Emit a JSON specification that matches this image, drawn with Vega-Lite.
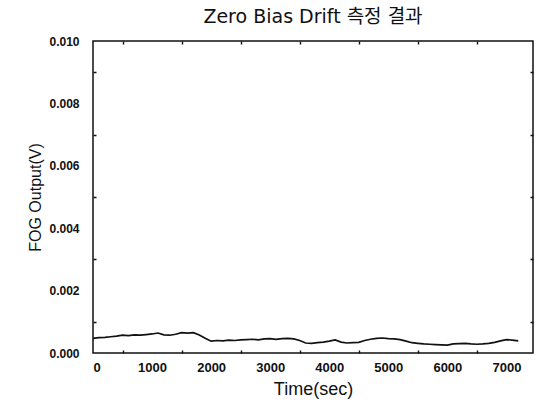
{
  "$schema": "https://vega.github.io/schema/vega-lite/v6.json",
  "width": 440,
  "height": 312,
  "autosize": {"type": "none"},
  "padding": {"left": 93, "top": 41, "right": 3, "bottom": 52},
  "background": "white",
  "title": {
    "text": "Zero Bias Drift 측정 결과",
    "font": "DejaVu Sans, Noto Sans CJK KR",
    "fontSize": 19,
    "fontWeight": "normal",
    "color": "#111",
    "offset": 8
  },
  "config": {
    "view": {"stroke": "#111", "strokeWidth": 1.5},
    "axis": {
      "zindex": 2,
      "domain": false,
      "ticks": false,
      "grid": true,
      "gridColor": "#111",
      "gridOpacity": 1,
      "gridWidth": 1.4,
      "labelFont": "Liberation Sans",
      "labelFontWeight": "bold",
      "labelFontSize": 12,
      "labelColor": "#111",
      "titleFont": "Liberation Sans",
      "titleFontWeight": "normal",
      "titleFontSize": 16,
      "titleColor": "#111"
    }
  },
  "data": {
    "values": [
      {"t": 0, "v": 0.00047}, {"t": 100, "v": 0.00049}, {"t": 200, "v": 0.0005},
      {"t": 300, "v": 0.00052}, {"t": 400, "v": 0.00054}, {"t": 500, "v": 0.00057},
      {"t": 600, "v": 0.00056}, {"t": 700, "v": 0.00058}, {"t": 800, "v": 0.00057},
      {"t": 900, "v": 0.00059}, {"t": 1000, "v": 0.00061}, {"t": 1100, "v": 0.00064},
      {"t": 1200, "v": 0.00058}, {"t": 1300, "v": 0.00057}, {"t": 1400, "v": 0.0006},
      {"t": 1500, "v": 0.00065}, {"t": 1600, "v": 0.00064}, {"t": 1700, "v": 0.00065},
      {"t": 1800, "v": 0.00058}, {"t": 1900, "v": 0.00047}, {"t": 2000, "v": 0.00038},
      {"t": 2100, "v": 0.0004}, {"t": 2200, "v": 0.00039}, {"t": 2300, "v": 0.00041},
      {"t": 2400, "v": 0.0004}, {"t": 2500, "v": 0.00042}, {"t": 2600, "v": 0.00043},
      {"t": 2700, "v": 0.00044}, {"t": 2800, "v": 0.00042}, {"t": 2900, "v": 0.00045},
      {"t": 3000, "v": 0.00046}, {"t": 3100, "v": 0.00044}, {"t": 3200, "v": 0.00046},
      {"t": 3300, "v": 0.00047}, {"t": 3400, "v": 0.00045}, {"t": 3500, "v": 0.0004},
      {"t": 3600, "v": 0.00032}, {"t": 3700, "v": 0.00031}, {"t": 3800, "v": 0.00033},
      {"t": 3900, "v": 0.00035}, {"t": 4000, "v": 0.00038}, {"t": 4100, "v": 0.00042},
      {"t": 4200, "v": 0.00035}, {"t": 4300, "v": 0.00032}, {"t": 4400, "v": 0.00033},
      {"t": 4500, "v": 0.00034}, {"t": 4600, "v": 0.0004}, {"t": 4700, "v": 0.00044},
      {"t": 4800, "v": 0.00047}, {"t": 4900, "v": 0.00048}, {"t": 5000, "v": 0.00046},
      {"t": 5100, "v": 0.00045}, {"t": 5200, "v": 0.00043}, {"t": 5300, "v": 0.00038},
      {"t": 5400, "v": 0.00033}, {"t": 5500, "v": 0.00031}, {"t": 5600, "v": 0.00029},
      {"t": 5700, "v": 0.00028}, {"t": 5800, "v": 0.00027}, {"t": 5900, "v": 0.00026},
      {"t": 6000, "v": 0.00025}, {"t": 6100, "v": 0.00029}, {"t": 6200, "v": 0.0003},
      {"t": 6300, "v": 0.00031}, {"t": 6400, "v": 0.00029}, {"t": 6500, "v": 0.00028},
      {"t": 6600, "v": 0.00029}, {"t": 6700, "v": 0.00031}, {"t": 6800, "v": 0.00034},
      {"t": 6900, "v": 0.00039}, {"t": 7000, "v": 0.00043}, {"t": 7100, "v": 0.00041},
      {"t": 7200, "v": 0.00039}
    ]
  },
  "resolve": {"scale": {"x": "independent", "y": "independent"}},
  "layer": [
    {
      "mark": {"type": "line", "strokeOpacity": 0},
      "encoding": {
        "x": {
          "field": "t", "type": "quantitative",
          "scale": {"domain": [0, 7450], "nice": false, "zero": false},
          "axis": {
            "orient": "bottom", "title": null, "labels": false,
            "values": [500, 1500, 2500, 3500, 4500, 5500, 6500],
            "gridDash": [3, 306, 3]
          }
        },
        "y": {
          "field": "v", "type": "quantitative",
          "scale": {"domain": [0, 0.01], "nice": false, "zero": false},
          "axis": {
            "orient": "left", "title": null, "labels": false,
            "values": [0.001, 0.003, 0.005, 0.007, 0.009],
            "gridDash": [3, 434, 3]
          }
        }
      }
    },
    {
      "mark": {"type": "line", "color": "#111", "strokeWidth": 1.7},
      "encoding": {
        "x": {
          "field": "t", "type": "quantitative",
          "scale": {"domain": [0, 7450], "nice": false, "zero": false},
          "axis": {
            "orient": "bottom",
            "title": "Time(sec)",
            "titleFontSize": 18,
            "labelFontSize": 13,
            "values": [0, 1000, 2000, 3000, 4000, 5000, 6000, 7000],
            "format": "d",
            "gridDash": [5, 302, 5],
            "labelPadding": 8,
            "titlePadding": 6
          }
        },
        "y": {
          "field": "v", "type": "quantitative",
          "scale": {"domain": [0, 0.01], "nice": false, "zero": false},
          "axis": {
            "orient": "left",
            "title": "FOG Output(V)",
            "values": [0, 0.002, 0.004, 0.006, 0.008, 0.01],
            "format": ".3f",
            "gridDash": [5, 430, 5],
            "labelPadding": 14,
            "titlePadding": 5
          }
        }
      }
    }
  ]
}
